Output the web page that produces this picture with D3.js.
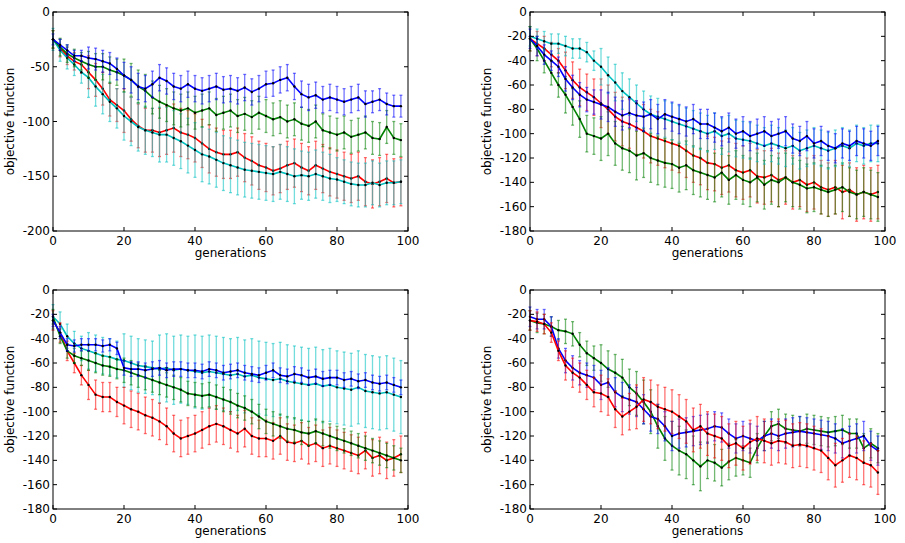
<!DOCTYPE html>
<html><head><meta charset="utf-8">
<script src="https://cdn.jsdelivr.net/npm/d3@7"></script>
<style>body{margin:0;background:#fff}text{font-family:"DejaVu Sans",sans-serif}</style>
</head><body>
<svg id="vis" width="905" height="543"></svg>
<script>
// generations sampled every 2 steps
const GENS = d3.range(0, 100, 2);

// panel 1 (top left)
const p1Blue = [-25,-30,-35,-40,-40,-42,-43,-45,-47,-52,-58,-62,-68,-70,-66,-60,-63,-68,-70,-66,-70,-72,-70,-68,-71,-70,-72,-69,-73,-70,-66,-65,-62,-60,-68,-75,-78,-76,-80,-78,-80,-82,-80,-78,-84,-82,-80,-84,-86,-86];
const p1Green = [-25,-32,-38,-42,-45,-48,-50,-50,-53,-55,-58,-62,-68,-72,-78,-82,-85,-88,-90,-88,-92,-90,-88,-94,-92,-90,-95,-93,-96,-92,-95,-98,-96,-100,-98,-102,-104,-100,-108,-110,-112,-110,-114,-112,-110,-115,-116,-105,-115,-117];
const p1Red = [-25,-33,-40,-45,-48,-55,-62,-70,-80,-85,-90,-98,-104,-108,-108,-110,-108,-106,-110,-112,-115,-120,-125,-128,-130,-130,-128,-133,-136,-140,-142,-145,-143,-140,-138,-142,-145,-140,-143,-146,-148,-150,-152,-150,-155,-157,-155,-152,-156,-155];
const p1Cyan = [-25,-35,-42,-48,-55,-60,-68,-75,-82,-88,-95,-100,-105,-108,-110,-112,-112,-115,-118,-122,-126,-130,-132,-135,-138,-140,-142,-144,-145,-146,-147,-148,-146,-148,-150,-149,-150,-148,-150,-152,-153,-155,-157,-158,-158,-156,-158,-156,-156,-155];
// panel 2 (top right)
const p2Blue = [-22,-28,-35,-40,-45,-55,-62,-68,-72,-74,-76,-78,-82,-85,-83,-85,-86,-84,-88,-84,-86,-88,-90,-88,-92,-92,-95,-98,-95,-100,-98,-102,-100,-98,-102,-100,-98,-104,-106,-102,-108,-106,-110,-112,-108,-110,-106,-108,-110,-106];
const p2Cyan = [-20,-22,-24,-26,-26,-28,-30,-30,-33,-40,-45,-52,-58,-65,-70,-75,-80,-84,-86,-88,-90,-92,-94,-96,-98,-100,-98,-102,-100,-104,-105,-106,-108,-110,-108,-110,-112,-110,-114,-112,-110,-112,-114,-112,-110,-112,-108,-110,-108,-108];
const p2Red = [-22,-26,-30,-35,-40,-48,-56,-62,-66,-70,-75,-80,-86,-90,-92,-95,-98,-102,-104,-106,-108,-110,-114,-118,-120,-124,-125,-128,-126,-130,-132,-130,-135,-136,-134,-138,-136,-140,-138,-142,-140,-144,-146,-144,-148,-146,-150,-148,-150,-148];
const p2Green = [-22,-30,-40,-50,-60,-68,-78,-88,-100,-102,-104,-100,-108,-112,-114,-118,-116,-120,-122,-124,-125,-128,-126,-130,-132,-134,-136,-132,-138,-134,-138,-140,-136,-142,-138,-140,-136,-140,-142,-145,-144,-146,-148,-146,-144,-148,-150,-148,-150,-152];
// panel 3 (bottom left)
const p3Blue = [-25,-35,-45,-46,-45,-45,-45,-46,-45,-48,-64,-65,-65,-66,-65,-64,-66,-65,-65,-66,-66,-67,-65,-66,-68,-67,-66,-68,-69,-70,-68,-66,-70,-71,-69,-70,-72,-71,-73,-72,-72,-74,-73,-75,-74,-76,-77,-76,-78,-80];
const p3Cyan = [-22,-28,-38,-44,-48,-50,-52,-54,-55,-57,-58,-60,-62,-63,-64,-65,-64,-66,-65,-66,-67,-68,-67,-68,-69,-70,-69,-71,-70,-72,-73,-74,-73,-75,-76,-77,-78,-77,-79,-78,-80,-81,-82,-80,-83,-84,-85,-84,-86,-88];
const p3Green = [-22,-38,-50,-54,-56,-58,-60,-62,-63,-65,-66,-68,-70,-72,-74,-76,-78,-80,-82,-85,-86,-87,-86,-88,-90,-92,-95,-97,-100,-104,-108,-110,-112,-114,-115,-117,-118,-116,-118,-120,-122,-124,-126,-128,-130,-132,-134,-136,-138,-140];
const p3Red = [-25,-35,-50,-60,-70,-78,-86,-88,-88,-92,-95,-98,-100,-103,-105,-108,-112,-118,-122,-120,-118,-115,-112,-110,-112,-115,-118,-114,-120,-122,-122,-124,-120,-125,-126,-124,-128,-126,-130,-128,-130,-132,-134,-136,-132,-138,-136,-140,-138,-135];
// panel 4 (bottom right)
const p4Blue = [-22,-24,-24,-30,-48,-58,-64,-68,-70,-72,-78,-76,-84,-88,-90,-92,-98,-104,-106,-112,-120,-118,-117,-116,-115,-114,-112,-113,-118,-122,-120,-122,-124,-120,-118,-120,-118,-117,-116,-117,-118,-119,-120,-122,-126,-124,-122,-120,-128,-132];
const p4Green = [-25,-27,-28,-30,-33,-34,-36,-45,-52,-56,-60,-65,-68,-72,-80,-85,-92,-100,-112,-122,-128,-132,-135,-140,-145,-140,-142,-146,-141,-138,-140,-142,-130,-120,-112,-110,-114,-115,-116,-114,-115,-116,-117,-116,-115,-118,-118,-130,-126,-130];
const p4Red = [-25,-26,-28,-35,-50,-62,-68,-72,-78,-84,-85,-88,-98,-104,-100,-96,-90,-92,-96,-98,-100,-104,-108,-115,-112,-118,-120,-122,-128,-126,-130,-125,-122,-124,-126,-124,-125,-128,-127,-128,-130,-132,-138,-144,-140,-136,-138,-142,-144,-150];

// error half-widths, one per block of 10 generations
const p1Err = {blue:[5,10,12,12,12,12,12,12,12,10], green:[8,12,15,15,15,15,15,15,15,15], red:[8,15,20,22,22,22,22,22,22,22], cyan:[10,18,22,25,25,25,25,22,20,20]};
const p2Err = {blue:[8,10,12,12,12,12,12,12,12,12], cyan:[8,8,15,15,15,15,15,15,15,15], red:[10,15,20,22,22,22,22,22,22,22], green:[10,15,18,20,20,20,20,20,20,20]};
const p3Err = {blue:[5,5,6,6,6,6,6,6,6,6], cyan:[10,15,22,28,30,30,30,30,30,30], green:[6,8,10,10,10,10,10,10,10,10], red:[8,12,15,15,15,15,15,15,15,15]};
const p4Err = {blue:[8,10,12,12,12,12,12,12,12,12], green:[8,10,15,18,20,15,12,12,12,12], red:[8,12,15,18,18,18,18,18,18,18]};

const COLORS = {blue:"#0000ff", green:"#008000", red:"#ff0000", cyan:"#00bfbf"};
const X_TICKS = [0, 20, 40, 60, 80, 100];

const panels = [
    {x0:53, y0:12, ymin:-200, yticks:[0,-50,-100,-150,-200], err:p1Err,
     series:[["red",p1Red],["cyan",p1Cyan],["green",p1Green],["blue",p1Blue]]},
    {x0:530, y0:12, ymin:-180, yticks:d3.range(0,-181,-20), err:p2Err,
     series:[["red",p2Red],["green",p2Green],["cyan",p2Cyan],["blue",p2Blue]]},
    {x0:53, y0:290, ymin:-180, yticks:d3.range(0,-181,-20), err:p3Err,
     series:[["cyan",p3Cyan],["red",p3Red],["green",p3Green],["blue",p3Blue]]},
    {x0:530, y0:290, ymin:-180, yticks:d3.range(0,-181,-20), err:p4Err,
     series:[["green",p4Green],["blue",p4Blue],["red",p4Red]]},
];

const W = 355, H = 219;
const svg = d3.select("#vis");

function drawPanel(p) {
    const g = svg.append("g").attr("transform", `translate(${p.x0},${p.y0})`);
    const x = d3.scaleLinear().domain([0, 100]).range([0, W]);
    const y = d3.scaleLinear().domain([p.ymin, 0]).range([H, 0]);

    p.series.forEach(([name, vals]) => {
        const col = COLORS[name];
        const pts = vals.map((v, i) => ({x: GENS[i], y: v, e: p.err[name][Math.floor(GENS[i] / 10)]}));
        const eb = g.append("g").attr("stroke", col).attr("stroke-opacity", 0.55).attr("stroke-width", 1.3);
        pts.forEach(d => {
            const xx = x(d.x);
            eb.append("line").attr("x1", xx).attr("x2", xx).attr("y1", y(d.y - d.e)).attr("y2", y(Math.min(0, d.y + d.e)));
            eb.append("line").attr("x1", xx - 1.5).attr("x2", xx + 1.5).attr("y1", y(d.y - d.e)).attr("y2", y(d.y - d.e));
            if (d.y + d.e < 0) eb.append("line").attr("x1", xx - 1.5).attr("x2", xx + 1.5).attr("y1", y(d.y + d.e)).attr("y2", y(d.y + d.e));
        });
        g.append("path").datum(pts)
            .attr("fill", "none").attr("stroke", col).attr("stroke-width", 1.6)
            .attr("d", d3.line().x(d => x(d.x)).y(d => y(d.y)));
        g.selectAll(null).data(pts).join("circle")
            .attr("cx", d => x(d.x)).attr("cy", d => y(d.y)).attr("r", 1.2).attr("fill", "#000");
    });

    // frame and inward ticks on all sides
    g.append("rect").attr("width", W).attr("height", H).attr("fill", "none").attr("stroke", "#000");
    const ax = g.append("g").attr("stroke", "#000");
    X_TICKS.forEach(t => {
        ax.append("line").attr("x1", x(t)).attr("x2", x(t)).attr("y1", H).attr("y2", H - 4);
        ax.append("line").attr("x1", x(t)).attr("x2", x(t)).attr("y1", 0).attr("y2", 4);
        g.append("text").attr("x", x(t)).attr("y", H + 14).attr("text-anchor", "middle").attr("font-size", 12).text(t);
    });
    p.yticks.forEach(t => {
        ax.append("line").attr("x1", 0).attr("x2", 4).attr("y1", y(t)).attr("y2", y(t));
        ax.append("line").attr("x1", W).attr("x2", W - 4).attr("y1", y(t)).attr("y2", y(t));
        g.append("text").attr("x", -3).attr("y", y(t) + 4).attr("text-anchor", "end").attr("font-size", 12).text(t);
    });
    g.append("text").attr("x", W / 2).attr("y", H + 26).attr("text-anchor", "middle").attr("font-size", 12).text("generations");
    g.append("text").attr("transform", `translate(-39,${H / 2}) rotate(-90)`).attr("text-anchor", "middle").attr("font-size", 12).text("objective function");
}

panels.forEach(drawPanel);
</script>
</body></html>
